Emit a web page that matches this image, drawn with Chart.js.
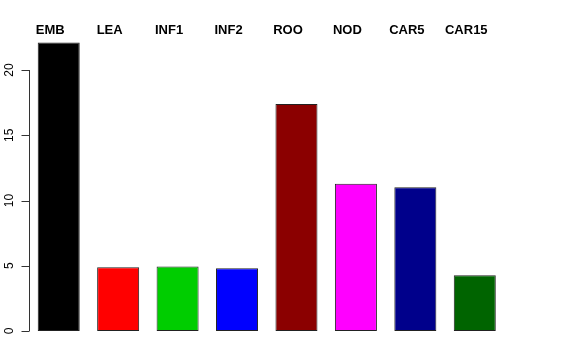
<!DOCTYPE html>
<html>
<head>
<meta charset="utf-8">
<script src="https://cdn.jsdelivr.net/npm/chart.js@4/dist/chart.umd.min.js"></script>
<style>
  html, body { margin: 0; padding: 0; background: #fff; }
  #wrap { width: 576px; height: 360px; }
</style>
</head>
<body>
<div id="wrap"><canvas id="bar-chart"></canvas></div>
<script>
const categories = ["EMB", "LEA", "INF1", "INF2", "ROO", "NOD", "CAR5", "CAR15"];
const values = [22.1, 4.88, 4.95, 4.8, 17.39, 11.28, 11.02, 4.27];
const barColors = ["#000000", "#FF0000", "#00CD00", "#0000FF", "#8B0000", "#FF00FF", "#00008B", "#006400"];
const yTicks = [0, 5, 10, 15, 20];

// draws R-style left axis (0..20) and the bold names above the bars
const rAxes = {
  id: "rAxes",
  afterDraw(chart) {
    const ctx = chart.ctx;
    const x = chart.scales.x;
    const y = chart.scales.y;
    const axisX = chart.chartArea.left;

    ctx.save();
    ctx.strokeStyle = "#333";
    ctx.lineWidth = 1;
    ctx.beginPath();
    ctx.moveTo(axisX + 0.5, y.getPixelForValue(yTicks[0]));
    ctx.lineTo(axisX + 0.5, y.getPixelForValue(yTicks[yTicks.length - 1]));
    yTicks.forEach(t => {
      const py = Math.round(y.getPixelForValue(t)) + 0.5;
      ctx.moveTo(axisX + 0.5, py);
      ctx.lineTo(axisX - 7.5, py);
    });
    ctx.stroke();

    ctx.fillStyle = "#000";
    ctx.font = "12px 'Liberation Sans', Arial, sans-serif";
    ctx.textAlign = "center";
    ctx.textBaseline = "middle";
    yTicks.forEach(t => {
      ctx.save();
      ctx.translate(axisX - 19, y.getPixelForValue(t));
      ctx.rotate(-Math.PI / 2);
      ctx.fillText(String(t), 0, 0);
      ctx.restore();
    });

    ctx.font = "bold 13px 'Liberation Sans', Arial, sans-serif";
    ctx.textBaseline = "alphabetic";
    categories.forEach((c, i) => {
      ctx.fillText(c, x.getPixelForValue(i) - 8.5, 34);
    });
    ctx.restore();
  }
};

new Chart(document.getElementById("bar-chart"), {
  type: "bar",
  data: {
    labels: categories,
    datasets: [{
      data: values,
      backgroundColor: barColors,
      borderColor: "#222",
      borderWidth: 1,
      borderSkipped: false,
      categoryPercentage: 1,
      barPercentage: 0.707
    }]
  },
  options: {
    responsive: true,
    maintainAspectRatio: false,
    animation: false,
    layout: { padding: { left: 29, right: 71.5, top: 37.4, bottom: 29 } },
    plugins: { legend: { display: false }, tooltip: { enabled: false } },
    scales: {
      x: { display: false, offset: true },
      y: { display: false, min: 0, max: 22.5 }
    }
  },
  plugins: [rAxes]
});
</script>
</body>
</html>
